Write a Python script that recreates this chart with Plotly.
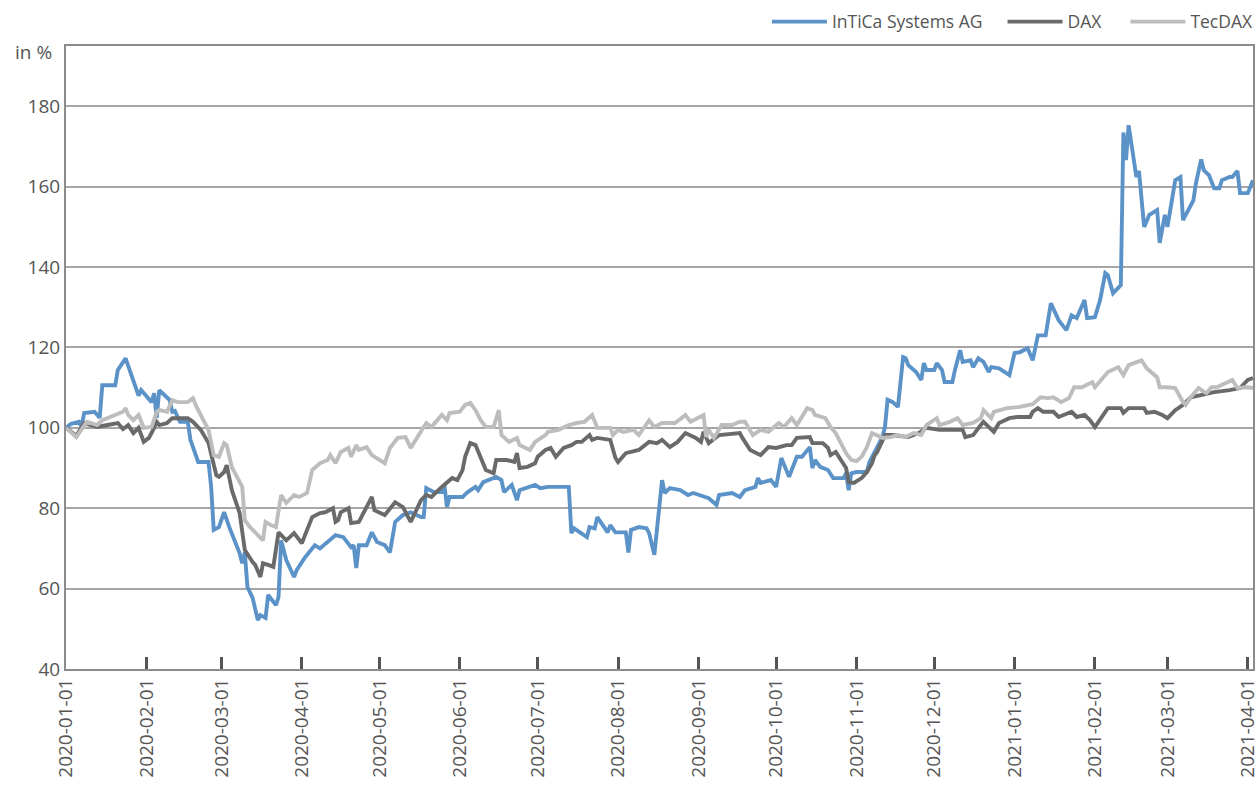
import plotly.graph_objects as go

# ---------------- data ----------------
intica_dates = ["2020-01-01","2020-01-03","2020-01-06","2020-01-07","2020-01-08","2020-01-12","2020-01-14","2020-01-15","2020-01-20","2020-01-21","2020-01-24","2020-01-27","2020-01-29","2020-01-30","2020-02-03","2020-02-04","2020-02-05","2020-02-06","2020-02-10","2020-02-11","2020-02-12","2020-02-14","2020-02-17","2020-02-18","2020-02-20","2020-02-21","2020-02-25","2020-02-26","2020-02-27","2020-02-29","2020-03-02","2020-03-04","2020-03-08","2020-03-09","2020-03-10","2020-03-11","2020-03-13","2020-03-15","2020-03-16","2020-03-18","2020-03-19","2020-03-22","2020-03-23","2020-03-24","2020-03-26","2020-03-29","2020-03-30","2020-04-02","2020-04-06","2020-04-08","2020-04-14","2020-04-17","2020-04-20","2020-04-21","2020-04-22","2020-04-23","2020-04-26","2020-04-28","2020-04-30","2020-05-03","2020-05-05","2020-05-07","2020-05-10","2020-05-13","2020-05-17","2020-05-18","2020-05-19","2020-05-22","2020-05-25","2020-05-26","2020-05-27","2020-05-28","2020-06-02","2020-06-04","2020-06-07","2020-06-08","2020-06-10","2020-06-15","2020-06-17","2020-06-18","2020-06-21","2020-06-23","2020-06-24","2020-06-30","2020-07-02","2020-07-05","2020-07-13","2020-07-14","2020-07-15","2020-07-20","2020-07-21","2020-07-23","2020-07-24","2020-07-28","2020-07-29","2020-07-31","2020-08-04","2020-08-05","2020-08-06","2020-08-09","2020-08-12","2020-08-13","2020-08-15","2020-08-17","2020-08-18","2020-08-19","2020-08-21","2020-08-25","2020-08-28","2020-08-30","2020-09-05","2020-09-08","2020-09-09","2020-09-14","2020-09-17","2020-09-19","2020-09-23","2020-09-24","2020-09-25","2020-09-29","2020-10-01","2020-10-03","2020-10-05","2020-10-06","2020-10-07","2020-10-09","2020-10-11","2020-10-14","2020-10-15","2020-10-16","2020-10-18","2020-10-21","2020-10-23","2020-10-27","2020-10-28","2020-10-29","2020-10-30","2020-11-01","2020-11-05","2020-11-06","2020-11-09","2020-11-11","2020-11-12","2020-11-13","2020-11-15","2020-11-17","2020-11-19","2020-11-20","2020-11-21","2020-11-24","2020-11-26","2020-11-27","2020-11-28","2020-12-01","2020-12-02","2020-12-04","2020-12-05","2020-12-08","2020-12-09","2020-12-11","2020-12-12","2020-12-15","2020-12-16","2020-12-18","2020-12-20","2020-12-22","2020-12-23","2020-12-26","2020-12-30","2021-01-01","2021-01-03","2021-01-06","2021-01-08","2021-01-10","2021-01-13","2021-01-15","2021-01-18","2021-01-21","2021-01-23","2021-01-25","2021-01-28","2021-01-29","2021-02-01","2021-02-03","2021-02-05","2021-02-06","2021-02-08","2021-02-11","2021-02-12","2021-02-13","2021-02-14","2021-02-17","2021-02-18","2021-02-20","2021-02-22","2021-02-25","2021-02-26","2021-02-28","2021-03-01","2021-03-04","2021-03-06","2021-03-07","2021-03-11","2021-03-12","2021-03-14","2021-03-15","2021-03-17","2021-03-19","2021-03-21","2021-03-22","2021-03-25","2021-03-26","2021-03-28","2021-03-29","2021-04-01","2021-04-03"]
intica_values = [100,101,101.5,100.3,103.7,104,102.5,110.6,110.6,114.4,117.3,111.4,108,109.4,106.4,108.6,102.5,109.4,106.9,104,104.2,101.5,101.5,97,93.7,91.5,91.5,85.3,74.6,75.3,79,75.3,68.8,66.3,69,60.4,57.7,52.2,53.4,52.7,58.4,55.9,57.9,72,67.1,62.9,64.6,67.6,70.8,70,73.3,72.8,70.3,70.8,65.1,70.8,70.8,74,71.6,70.8,69,76.6,78.3,79,77.8,77.8,85,84,84,85.8,80.3,82.8,82.8,84,85.3,84.5,86.5,87.8,87,84,85.8,82,84.5,85.8,85,85.3,85.3,73.8,75,72.8,75.3,75,77.8,74,75.8,74,74,69,74.6,75.3,75,73.8,68.4,81.5,87,83.8,85,84.5,83.3,83.8,82.5,80.8,83.3,83.8,82.8,84.5,85.3,87.5,86.3,87,85.3,92.5,89.5,87.8,89.5,92.8,92.8,95.2,90,92,90.3,89.5,87.5,87.5,88.7,84.5,88.7,89,89,91.5,95.2,97.7,100.2,107,106.4,105.2,117.6,117.3,115.6,113.9,111.9,116.1,114.4,114.4,116.1,114.4,111.4,111.4,114.4,119.3,116.4,116.8,115.1,117.3,116.4,113.9,115.1,114.8,113.1,118.6,118.8,119.8,116.8,123,123,131,126.8,124.3,128,127.3,131.8,127.3,127.5,131.8,138.5,138,133.5,135.5,173.5,166.6,175.3,162.4,163.9,150,153,154.2,146,153,150,161.6,162.4,151.7,156.6,160.9,166.8,164.1,162.9,159.6,159.6,161.6,162.4,162.4,163.9,158.4,158.4,161.6]

dax_dates = ["2020-01-01","2020-01-05","2020-01-08","2020-01-13","2020-01-17","2020-01-21","2020-01-23","2020-01-25","2020-01-27","2020-01-29","2020-01-31","2020-02-02","2020-02-04","2020-02-05","2020-02-06","2020-02-09","2020-02-11","2020-02-17","2020-02-19","2020-02-22","2020-02-25","2020-02-27","2020-02-28","2020-02-29","2020-03-02","2020-03-03","2020-03-05","2020-03-08","2020-03-10","2020-03-13","2020-03-14","2020-03-16","2020-03-17","2020-03-19","2020-03-21","2020-03-23","2020-03-26","2020-03-29","2020-04-01","2020-04-03","2020-04-05","2020-04-08","2020-04-10","2020-04-13","2020-04-14","2020-04-15","2020-04-16","2020-04-19","2020-04-20","2020-04-23","2020-04-28","2020-04-29","2020-05-03","2020-05-07","2020-05-10","2020-05-13","2020-05-17","2020-05-19","2020-05-21","2020-05-25","2020-05-29","2020-05-31","2020-06-02","2020-06-03","2020-06-05","2020-06-07","2020-06-09","2020-06-11","2020-06-14","2020-06-15","2020-06-19","2020-06-22","2020-06-23","2020-06-24","2020-06-27","2020-06-30","2020-07-01","2020-07-04","2020-07-06","2020-07-08","2020-07-11","2020-07-14","2020-07-16","2020-07-18","2020-07-21","2020-07-22","2020-07-24","2020-07-29","2020-07-31","2020-08-01","2020-08-04","2020-08-09","2020-08-13","2020-08-16","2020-08-18","2020-08-21","2020-08-24","2020-08-27","2020-08-31","2020-09-02","2020-09-03","2020-09-05","2020-09-09","2020-09-17","2020-09-18","2020-09-21","2020-09-25","2020-09-28","2020-10-01","2020-10-05","2020-10-07","2020-10-09","2020-10-14","2020-10-15","2020-10-19","2020-10-21","2020-10-22","2020-10-24","2020-10-26","2020-10-28","2020-10-29","2020-10-31","2020-11-03","2020-11-05","2020-11-07","2020-11-08","2020-11-09","2020-11-11","2020-11-12","2020-11-15","2020-11-21","2020-11-25","2020-11-28","2020-12-03","2020-12-12","2020-12-13","2020-12-16","2020-12-19","2020-12-20","2020-12-24","2020-12-26","2020-12-30","2021-01-02","2021-01-07","2021-01-08","2021-01-10","2021-01-12","2021-01-16","2021-01-18","2021-01-23","2021-01-25","2021-01-28","2021-01-30","2021-02-01","2021-02-03","2021-02-06","2021-02-11","2021-02-12","2021-02-14","2021-02-20","2021-02-21","2021-02-24","2021-02-27","2021-03-01","2021-03-04","2021-03-07","2021-03-10","2021-03-14","2021-03-19","2021-03-25","2021-03-29","2021-04-01","2021-04-03"]
dax_values = [100,98,101.2,100.2,100.7,101.2,99.7,100.7,98.7,100,96.5,97.5,100,101.5,100.7,101.2,102.4,102.4,101.5,99.5,96.2,90.2,88.2,87.8,89,90.7,84.5,78.8,69.6,66.6,65.9,62.9,66.3,65.9,65.4,74,72,73.8,71.3,74.6,77.8,78.8,79,80,76.6,77,79,80,76.3,76.6,82.8,79.5,78.3,81.5,80.3,76.6,82,83.3,82.8,85.3,87.5,87,89.5,92.8,96.2,95.7,92.8,89.5,88.7,92,92,91.5,93.7,90,90.3,91.2,92.8,94.5,95,92.8,95,95.7,96.5,96.5,98.2,97,97.5,97,92.5,91.5,93.7,94.5,96.5,96.2,97,95.2,96.5,98.7,97.5,96.5,99,96.2,98.2,98.7,97.5,94.5,93.2,95.2,95,95.7,95.7,97.5,97.7,96.2,96.2,95,93.2,94,92,90,86.5,86.3,87.5,89,91.2,93.2,94,97,98.2,98.2,97.7,98.7,100,99.5,99.5,97.7,98.2,100.7,101.5,99,101.2,102.4,102.7,102.7,104,104.9,104,104,102.7,104,102.7,103.2,102,100.2,102,104.9,104.9,103.7,104.9,104.9,103.7,104,103.2,102.4,104.4,105.7,107.6,108.1,108.9,109.4,109.9,111.9,112.4]

tecdax_dates = ["2020-01-01","2020-01-05","2020-01-09","2020-01-13","2020-01-15","2020-01-20","2020-01-23","2020-01-24","2020-01-25","2020-01-27","2020-01-29","2020-01-31","2020-02-03","2020-02-05","2020-02-06","2020-02-09","2020-02-11","2020-02-13","2020-02-17","2020-02-19","2020-02-20","2020-02-23","2020-02-25","2020-02-27","2020-02-29","2020-03-02","2020-03-03","2020-03-05","2020-03-09","2020-03-10","2020-03-12","2020-03-14","2020-03-17","2020-03-18","2020-03-20","2020-03-22","2020-03-24","2020-03-26","2020-03-29","2020-03-31","2020-04-03","2020-04-05","2020-04-08","2020-04-11","2020-04-12","2020-04-14","2020-04-16","2020-04-19","2020-04-20","2020-04-22","2020-04-23","2020-04-26","2020-04-28","2020-05-03","2020-05-05","2020-05-08","2020-05-11","2020-05-13","2020-05-15","2020-05-19","2020-05-21","2020-05-25","2020-05-27","2020-05-28","2020-06-01","2020-06-03","2020-06-05","2020-06-07","2020-06-09","2020-06-11","2020-06-14","2020-06-16","2020-06-17","2020-06-20","2020-06-23","2020-06-24","2020-06-28","2020-06-30","2020-07-04","2020-07-05","2020-07-09","2020-07-13","2020-07-16","2020-07-19","2020-07-22","2020-07-24","2020-07-29","2020-07-30","2020-08-01","2020-08-03","2020-08-07","2020-08-09","2020-08-13","2020-08-15","2020-08-18","2020-08-23","2020-08-27","2020-08-29","2020-09-03","2020-09-04","2020-09-05","2020-09-07","2020-09-10","2020-09-14","2020-09-17","2020-09-19","2020-09-22","2020-09-25","2020-09-28","2020-10-02","2020-10-04","2020-10-07","2020-10-09","2020-10-13","2020-10-15","2020-10-16","2020-10-20","2020-10-22","2020-10-24","2020-10-26","2020-10-28","2020-10-30","2020-11-01","2020-11-03","2020-11-05","2020-11-07","2020-11-09","2020-11-11","2020-11-14","2020-11-17","2020-11-20","2020-11-23","2020-11-26","2020-11-28","2020-12-02","2020-12-03","2020-12-07","2020-12-10","2020-12-12","2020-12-16","2020-12-19","2020-12-20","2020-12-23","2020-12-24","2020-12-29","2021-01-03","2021-01-08","2021-01-11","2021-01-14","2021-01-16","2021-01-19","2021-01-22","2021-01-24","2021-01-27","2021-01-31","2021-02-01","2021-02-06","2021-02-10","2021-02-12","2021-02-14","2021-02-19","2021-02-21","2021-02-25","2021-02-26","2021-03-01","2021-03-04","2021-03-07","2021-03-08","2021-03-10","2021-03-13","2021-03-16","2021-03-18","2021-03-20","2021-03-23","2021-03-26","2021-03-28","2021-04-01","2021-04-03"]
tecdax_values = [100,97.7,101.5,100.7,101.9,103.2,104,104.9,103.2,101.9,103.2,100,100.2,104,104.4,104,106.9,106.4,106.4,107.4,105.7,101.9,99.5,93.2,92.8,96.2,95.7,90.2,85.3,77,75.3,74,72,76.6,75.8,75.3,83.3,81.3,83.3,82.8,83.8,89.5,91.2,92,93.2,91.2,94,95,92.8,95.7,94.5,95.2,93.2,91.2,95,97.5,97.7,95,97,101.2,100.2,103.2,101.9,103.7,104,105.7,106.2,104.4,101.9,100.2,100.2,104.4,98.2,96.5,97.5,95.7,94.5,96.5,98.2,99,99.5,100.7,101.2,101.5,103.2,100,100,98.2,99.5,99,99.5,98.2,101.9,100.2,101.2,101.2,103.2,101.5,103.2,97.7,99.5,97.5,100.7,100.7,101.5,101.5,98.2,99.5,99,101.2,100.2,102.4,100.7,104.9,104.4,103.2,102.4,100.2,98.7,96.2,93.7,92,91.7,92.8,95.2,98.7,98.2,97.5,97.7,98.2,97.7,98.7,98.2,100.7,102.4,100.7,101.5,102.4,100.7,101.2,102.4,104.4,102.4,104,104.9,105.2,105.9,107.6,107.4,107.6,106.4,107.4,110.1,110.1,111.4,110.1,113.9,115.1,113.1,115.6,116.8,114.8,112.6,110.1,110.1,109.9,106.4,105.7,107.6,109.9,108.6,110.1,110.1,111.1,111.9,109.9,110.1,109.9]

series_names = ["InTiCa Systems AG", "DAX", "TecDAX"]
series_colors = ["#5b93c9", "#6a6a6a", "#bdbdbd"]
y_ticks = [40, 60, 80, 100, 120, 140, 160, 180]
x_ticks = ["2020-01-01","2020-02-01","2020-03-01","2020-04-01","2020-05-01","2020-06-01",
           "2020-07-01","2020-08-01","2020-09-01","2020-10-01","2020-11-01","2020-12-01",
           "2021-01-01","2021-02-01","2021-03-01","2021-04-01"]

# ---------------- figure ----------------
legend_ids = ["legend", "legend2", "legend3"]
legend_x = [0.5905, 0.789, 0.8925]

fig = go.Figure()
for name, xs, ys, col, lg in zip(series_names,
                                 [intica_dates, dax_dates, tecdax_dates],
                                 [intica_values, dax_values, tecdax_values],
                                 series_colors, legend_ids):
    fig.add_trace(go.Scatter(x=xs, y=ys, mode="lines", name=name, legend=lg,
                             line=dict(color=col, width=3.9)))

font_family = "Open Sans, Noto Sans, sans-serif"
legend_common = dict(orientation="h", xanchor="left", y=1.01, yanchor="bottom",
                     font=dict(size=17.5, color="#555555"), bgcolor="rgba(0,0,0,0)",
                     itemwidth=55)

fig.update_layout(
    width=1258, height=789,
    margin=dict(l=66, r=5, t=46, b=120, autoexpand=False),
    paper_bgcolor="white", plot_bgcolor="white",
    font=dict(family=font_family, size=19, color="#555555"),
    showlegend=True,
    legend=dict(x=legend_x[0], **legend_common),
    legend2=dict(x=legend_x[1], **legend_common),
    legend3=dict(x=legend_x[2], **legend_common),
    xaxis=dict(type="date", range=["2020-01-01", "2021-04-03"], automargin=False,
               tickvals=x_ticks, ticktext=x_ticks, tickangle=-90,
               ticklabeloverflow="allow",
               ticks="inside", ticklen=12, tickwidth=2.5, tickcolor="#555555",
               showgrid=False, showline=True, linecolor="#8c8c8c", linewidth=2,
               mirror=True, tickfont=dict(size=19, color="#555555"), zeroline=False),
    yaxis=dict(range=[40, 195], tickvals=y_ticks, showgrid=True, automargin=False,
               gridcolor="#a6a6a6", gridwidth=2, showline=True, linecolor="#8c8c8c",
               linewidth=2, mirror=True, ticks="", zeroline=False,
               tickfont=dict(size=19, color="#555555")),
    annotations=[dict(text="in %", x=0, xref="paper", xanchor="right", xshift=-12,
                      y=193.5, yref="y", yanchor="middle", showarrow=False,
                      font=dict(size=19, color="#555555"))],
)

fig.write_html("out.html", config={"displayModeBar": False},
               post_script="document.body.style.margin='0';"
                           "document.body.style.overflow='hidden';")
